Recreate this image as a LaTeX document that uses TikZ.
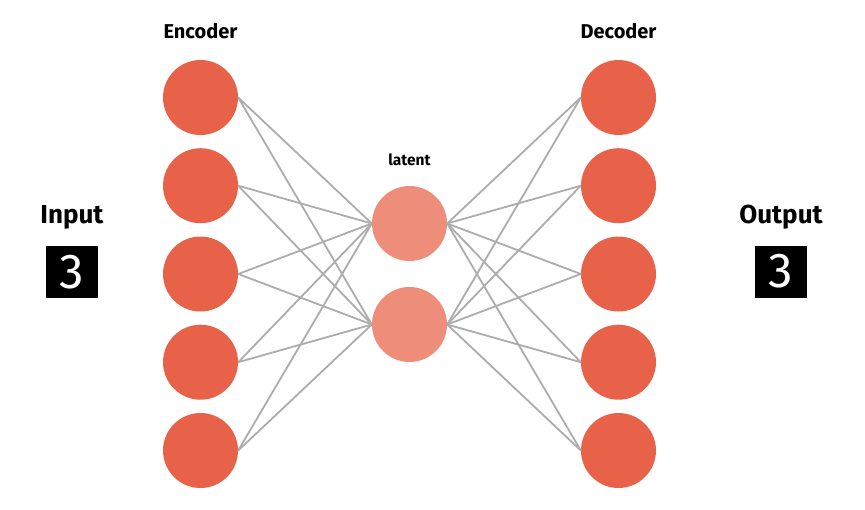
\documentclass[tikz,border=0pt]{standalone}
\usepackage{fontspec}
\setmainfont{Fira Sans}
\definecolor{enc}{RGB}{232,98,74}
\definecolor{lat}{RGB}{239,141,123}
\definecolor{edgec}{RGB}{172,172,172}
\begin{document}
\begin{tikzpicture}[x=1pt,y=-1pt,
 neuron/.style={circle,fill=enc,minimum size=75pt,inner sep=0pt},
 latn/.style={circle,fill=lat,minimum size=75pt,inner sep=0pt},
 conn/.style={draw=edgec,line width=1.8pt},
 lbl/.style={anchor=base,font=\bfseries\fontsize{20}{22}\selectfont},
 small/.style={anchor=base,font=\bfseries\fontsize{15.5}{17}\selectfont},
 big/.style={anchor=base,font=\bfseries\fontsize{26}{28}\selectfont},
 digit/.style={fill=black,text=white,minimum size=52pt,inner sep=0pt,font=\fontsize{49}{49}\selectfont}]
\useasboundingbox (0,0) rectangle (865,509);
\foreach \i/\y in {1/97.5,2/185.7,3/274,4/362.2,5/450.5}{
  \node[neuron] (e\i) at (200.5,\y) {};
  \node[neuron] (d\i) at (618.5,\y) {};
}
\node[latn] (l1) at (409.5,223.5) {};
\node[latn] (l2) at (409.5,324.5) {};
\foreach \i in {1,...,5}{
  \foreach \j in {1,2}{
    \draw[conn] (e\i.east) -- (l\j.west);
    \draw[conn] (l\j.east) -- (d\i.west);
  }
}
\node[lbl] (enclbl) at (200.5,38) {Encoder};
\node[lbl] (declbl) at (618.5,38) {Decoder};
\node[small] (latlbl) at (409.5,165) {latent};
\node[big] (inlbl) at (72,223) {Input};
\node[big] (outlbl) at (781,223) {Output};
\node[digit] (indig) at (72,272) {3};
\node[digit] (outdig) at (781,271.5) {3};
\end{tikzpicture}
\end{document}
